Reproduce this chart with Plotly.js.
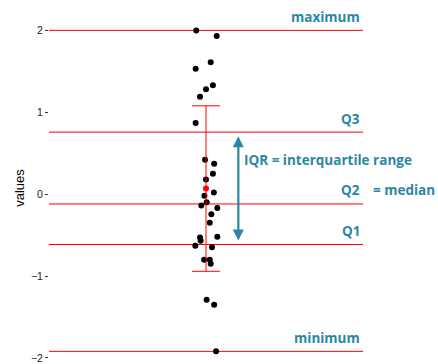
<!DOCTYPE html>
<html>
<head>
<meta charset="utf-8">
<script src="https://cdn.plot.ly/plotly-3.0.1.min.js"></script>
<style>html,body{margin:0;padding:0;background:#fff;}#chart{width:438px;height:364px;}</style>
</head>
<body>
<div id="chart"></div>
<script>
const values = [2.00, 1.93, 1.61, 1.53, 1.33, 1.28, 1.19, 0.87, 0.42, 0.37, 0.25, 0.18, 0.02, -0.02, -0.10,
                -0.14, -0.17, -0.245, -0.35, -0.52, -0.53, -0.57, -0.63, -0.65, -0.80, -0.80, -0.85, -1.29, -1.35, -1.92];
// horizontal jitter of each point around the group centre
const jitter = [-0.031, 0.034, 0.015, -0.033, 0.022, 0.0, -0.019, -0.033, -0.003, 0.026, 0.022, 0.0, 0.025, -0.005, 0.002,
                -0.015, 0.036, 0.017, 0.012, 0.036, -0.019, -0.017, -0.034, 0.019, -0.006, 0.012, 0.015, 0.002, 0.026, 0.032];
const tickVals = [-2, -1, 0, 1, 2];
const tickText = ['\u22122', '\u22121', '0', '1', '2'];

// summary statistics
const n = values.length;
const sorted = values.slice().sort((a, b) => a - b);
const mean = values.reduce((s, v) => s + v, 0) / n;
const sd = Math.sqrt(values.reduce((s, v) => s + (v - mean) * (v - mean), 0) / (n - 1));
function quantile(p) {
  const h = (n - 1) * p, lo = Math.floor(h), hi = Math.ceil(h);
  return sorted[lo] + (h - lo) * (sorted[hi] - sorted[lo]);
}
const qMin = sorted[0], q1 = quantile(0.25), q2 = quantile(0.5), q3 = quantile(0.75), qMax = sorted[n - 1];

const teal = '#2b87a3';
const red = '#ff0000';
const annFont = {family: '"Open Sans", sans-serif', size: 13.5, color: teal, weight: 700};

const traces = [
  {
    type: 'scatter', mode: 'markers',
    x: values.map((v, i) => 1 + jitter[i]), y: values,
    marker: {color: '#000', size: 6},
    hoverinfo: 'y', showlegend: false
  },
  {
    type: 'scatter', mode: 'markers',
    x: [1], y: [mean],
    marker: {color: red, size: 6},
    error_y: {type: 'data', array: [sd], visible: true, color: red, thickness: 1, width: 14},
    showlegend: false
  }
];

const lines = [qMax, q3, q2, q1, qMin];
const shapes = lines.map(v => ({
  type: 'line', xref: 'paper', yref: 'y', x0: 0, x1: 1, y0: v, y1: v,
  line: {color: red, width: 1}, layer: 'below'
}));

const labelAnn = [
  ['maximum', qMax], ['Q3', q3], ['Q2', q2], ['Q1', q1], ['minimum', qMin]
].map(([t, v]) => ({
  xref: 'paper', yref: 'y', x: 0.997, y: v, text: t, showarrow: false,
  xanchor: 'right', yanchor: 'middle', yshift: 13.5, font: annFont
}));

const annotations = labelAnn.concat([
  {xref: 'paper', yref: 'y', x: 1.026, y: q2, text: '= median', showarrow: false,
   xanchor: 'left', yanchor: 'middle', yshift: 13.5, font: annFont},
  {xref: 'paper', yref: 'y', x: 0.615, y: 0.42, text: 'IQR = interquartile range', showarrow: false,
   xanchor: 'left', yanchor: 'middle', font: annFont},
  {xref: 'x', yref: 'y', axref: 'x', ayref: 'y', x: 1.103, y: q3 - 0.05, ax: 1.103, ay: q1 + 0.03,
   text: '', showarrow: true, arrowhead: 2, arrowside: 'end+start', arrowsize: 1, arrowwidth: 2.2, arrowcolor: teal}
]);

const layout = {
  width: 438, height: 364,
  margin: {l: 49, r: 75, t: 14, b: 2},
  paper_bgcolor: '#fff', plot_bgcolor: '#fff',
  showlegend: false,
  xaxis: {range: [0.5, 1.5], visible: false, fixedrange: true},
  yaxis: {
    range: [-2.05, 2.2], showgrid: false, zeroline: false, showline: false,
    tickvals: tickVals, ticktext: tickText, ticks: 'outside', ticklen: 3, tickcolor: '#333', tickwidth: 1,
    tickfont: {family: '"Liberation Sans", Arial, sans-serif', size: 10.5, color: '#222'},
    title: {text: 'values', font: {family: '"Liberation Sans", Arial, sans-serif', size: 13, color: '#000'}, standoff: 3},
    fixedrange: true
  },
  shapes: shapes,
  annotations: annotations
};

Plotly.newPlot('chart', traces, layout, {displayModeBar: false, staticPlot: true});
</script>
</body>
</html>
